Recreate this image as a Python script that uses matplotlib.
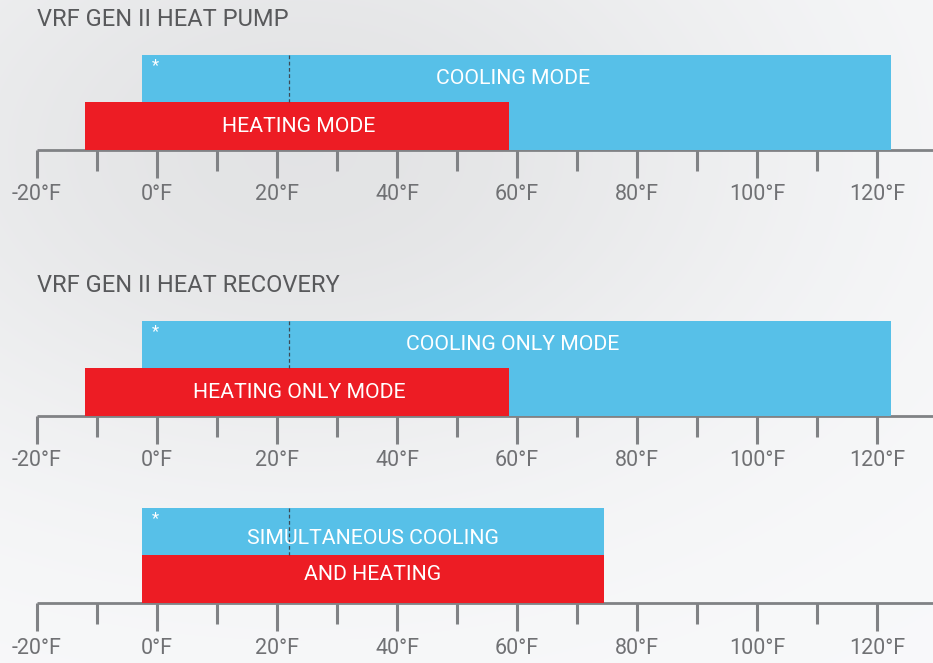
import numpy as np
import matplotlib
matplotlib.use('Agg')
import matplotlib.pyplot as plt

plt.rcParams['font.family'] = ['Roboto', 'DejaVu Sans']

# temperature ticks (°F)
ticks = np.arange(-20, 121, 10)
major = ticks[ticks % 20 == 0]
minor = ticks[ticks % 20 != 0]
tick_labels = ['%d°F' % t for t in major]

# operating ranges (°F): (start, end)
hp_cool = (-2.5, 122.3)
hp_heat = (-12, 58.7)
hr_cool = (-2.5, 122.3)
hr_heat = (-12, 58.7)
sim_cool = (-2.5, 74.5)
sim_heat = (-2.5, 74.5)
dash_temp = 22

titles = ['VRF GEN II HEAT PUMP', 'VRF GEN II HEAT RECOVERY', '']
cool_labels = ['COOLING MODE', 'COOLING ONLY MODE', 'SIMULTANEOUS COOLING']
heat_labels = ['HEATING MODE', 'HEATING ONLY MODE', 'AND HEATING']
cool_ranges = [hp_cool, hr_cool, sim_cool]
heat_ranges = [hp_heat, hr_heat, sim_heat]

BLUE = '#57c0e8'
RED = '#ed1c24'
GRAY = '#808285'
TXT = '#58595b'

W, H = 933, 663
fig = plt.figure(figsize=(W / 100, H / 100), dpi=100)

# soft gray background
bg = fig.add_axes([0, 0, 1, 1])
yy, xx = np.mgrid[0:H, 0:W]
L = 0.975 - 0.085 * np.exp(-((xx - 300) ** 2 / 500 ** 2 + (yy - 150) ** 2 / 330 ** 2))
img = np.dstack([L, L + 0.003, L + 0.008]).clip(0, 1)
bg.imshow(img, aspect='auto', extent=(0, 1, 0, 1))
bg.axis('off')

ax = fig.add_axes([0, 0, 1, 1])
ax.patch.set_alpha(0)
ax.set_xlim(-157 / 6, (W - 157) / 6)
ax.set_ylim(H, 0)
ax.axis('off')

# layout per panel: axis line y, bar height (pixels)
axis_y = [150, 416, 603]
bar_h = 48

for i in range(3):
    y0 = axis_y[i]
    c0, c1 = cool_ranges[i]
    h0, h1 = heat_ranges[i]
    # cooling bar (two rows tall), heating bar in front on lower row
    ax.barh(y0 - bar_h, c1 - c0, left=c0, height=2 * bar_h - 1, color=BLUE, zorder=2)
    ax.barh(y0 - bar_h / 2, h1 - h0, left=h0, height=bar_h, color=RED, zorder=3)
    ax.vlines(dash_temp, y0 - 2 * bar_h + 1, y0 - bar_h, colors='#3d4a55',
              linestyles=(0, (3, 2)), lw=0.9, zorder=4)
    ax.text(c0 + 2.3, y0 - 2 * bar_h + 12, '*', color='white', fontsize=12,
            ha='center', va='center', zorder=5)

    if i < 2:
        ax.text((c0 + c1) / 2 - 0.6, y0 - 1.5 * bar_h + 1, cool_labels[i], color='white',
                fontsize=15.3, ha='center', va='center', zorder=5)
        ax.text((h0 + h1) / 2 + 0.3, y0 - 0.5 * bar_h + 1, heat_labels[i], color='white',
                fontsize=15.3, ha='center', va='center', zorder=5)
        ax.text(-20, y0 - 130, titles[i], color=TXT, fontsize=17,
                ha='left', va='center')
    else:
        ax.text((c0 + c1) / 2, y0 - 1.5 * bar_h + 8, cool_labels[i], color='white',
                fontsize=15.3, ha='center', va='center', zorder=5)
        ax.text((h0 + h1) / 2, y0 - 0.5 * bar_h - 5, heat_labels[i], color='white',
                fontsize=15.3, ha='center', va='center', zorder=5)

    # temperature axis
    ax.hlines(y0, -20, ax.get_xlim()[1], colors=GRAY, lw=2, zorder=1)
    ax.vlines(major, y0, y0 + 28, colors=GRAY, lw=2.2, zorder=1)
    ax.vlines(minor, y0, y0 + 21, colors=GRAY, lw=2.2, zorder=1)
    for t, lab in zip(major, tick_labels):
        ax.text(t, y0 + 45, lab, color='#707174', fontsize=15.5, ha='center', va='center')

fig.savefig('out.png', dpi=100)
